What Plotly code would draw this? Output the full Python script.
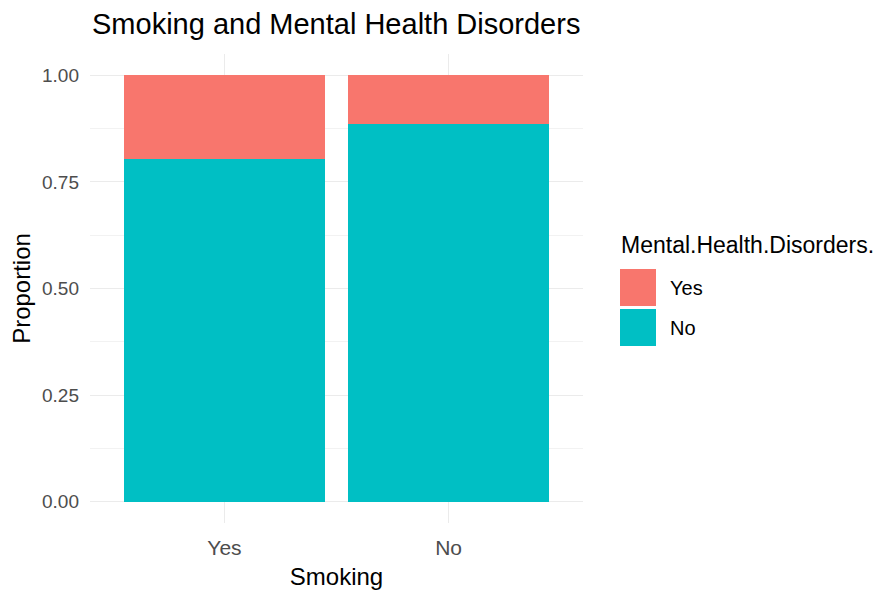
import plotly.graph_objects as go

smoking = ["Yes", "No"]
prop_disorder_no = [0.804, 0.887]
prop_disorder_yes = [0.196, 0.113]
y_ticks = [0.0, 0.25, 0.5, 0.75, 1.0]
y_tick_labels = ["0.00", "0.25", "0.50", "0.75", "1.00"]
legend_labels = ["Yes", "No"]
colors = {"Yes": "#F8766D", "No": "#00BFC4"}

FONT = "Liberation Sans, Arial, sans-serif"

# page body has 8px margin -> figure coordinates are page - 8
W, H = 877, 585
L, T, PW, PH = 82, 46, 493, 469
R = W - L - PW
B = H - T - PH


def px(X):
    return (X - 8 - L) / PW


def py(Y):
    return (H - B - (Y - 8)) / PH


fig = go.Figure()
fig.add_trace(go.Bar(x=[0, 1], y=prop_disorder_no, name="No", marker_color=colors["No"],
                     marker_line_width=0, width=0.9, showlegend=False))
fig.add_trace(go.Bar(x=[0, 1], y=prop_disorder_yes, name="Yes", marker_color=colors["Yes"],
                     marker_line_width=0, width=0.9, showlegend=False))

fig.update_layout(
    barmode="stack",
    width=W, height=H,
    margin=dict(l=L, r=R, t=T, b=B, autoexpand=False),
    paper_bgcolor="white", plot_bgcolor="white",
    font=dict(family=FONT),
    title=dict(text="Smoking and Mental Health Disorders", x=(92 - 8) / W, xanchor="left",
               y=1 - (24 - 8) / H, yanchor="middle", font=dict(size=29, color="black")),
)
fig.update_xaxes(
    range=[-0.6, 1.6], tickvals=[0, 1], ticktext=smoking,
    showgrid=True, gridcolor="#ebebeb", gridwidth=1, zeroline=False,
    ticks="", tickfont=dict(size=21, color="#4d4d4d"), ticklabelstandoff=10,
    title=dict(text="Smoking", font=dict(size=24, color="black"), standoff=10),
)
fig.update_yaxes(
    range=[-0.05, 1.05], tickvals=y_ticks, ticktext=y_tick_labels,
    showgrid=True, gridcolor="#ebebeb", gridwidth=1, zeroline=False,
    minor=dict(tickvals=[0.125, 0.375, 0.625, 0.875], showgrid=True, gridcolor="#f2f2f2", gridwidth=0.7),
    ticks="", tickfont=dict(size=19, color="#4d4d4d"), ticklabelstandoff=10,
    title=dict(text="Proportion", font=dict(size=24, color="black"), standoff=4),
)

# Manual ggplot-style legend
fig.add_annotation(text="Mental.Health.Disorders.", xref="paper", yref="paper",
                   x=px(619), y=py(245), xanchor="left", yanchor="middle", showarrow=False,
                   font=dict(size=23, color="black", family=FONT))
key_tops = [269, 309]
for lab, top in zip(legend_labels, key_tops):
    fig.add_shape(type="rect", xref="paper", yref="paper",
                  x0=px(620), x1=px(656), y0=py(top + 37), y1=py(top),
                  fillcolor=colors[lab], line=dict(width=0))
    fig.add_annotation(text=lab, xref="paper", yref="paper",
                       x=px(668), y=py(top + 19), xanchor="left", yanchor="middle",
                       showarrow=False, font=dict(size=20, color="black", family=FONT))

fig.write_html("out.html")
